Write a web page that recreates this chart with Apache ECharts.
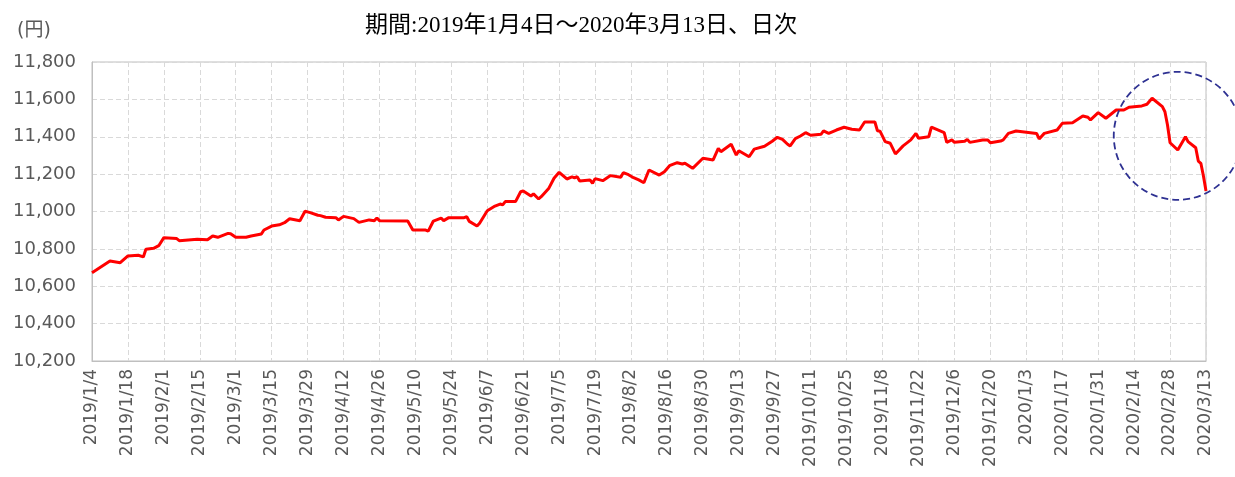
<!DOCTYPE html>
<html lang="ja">
<head>
<meta charset="UTF-8">
<script src="https://cdn.jsdelivr.net/npm/echarts@6/dist/echarts.min.js"></script>
<title>基準価額の推移</title>
<style>
    html, body { margin: 0; padding: 0; background: #fff; }
    #main { width: 1235px; height: 477px; }
</style>
</head>
<body>
<div id="main"></div>
<script type="text/javascript">
// 日次の基準価額（読み取り値）
var dates = [
    '2019/1/4','2019/1/11','2019/1/15','2019/1/18','2019/1/22','2019/1/24','2019/1/25','2019/1/28','2019/1/30',
    '2019/2/1','2019/2/6','2019/2/7','2019/2/14','2019/2/18','2019/2/20','2019/2/22','2019/2/26','2019/2/27',
    '2019/3/1','2019/3/5','2019/3/7','2019/3/11','2019/3/12','2019/3/15','2019/3/18','2019/3/20','2019/3/22',
    '2019/3/26','2019/3/28','2019/3/30','2019/4/2','2019/4/3','2019/4/5','2019/4/9','2019/4/10','2019/4/12',
    '2019/4/16','2019/4/18','2019/4/22','2019/4/24','2019/4/25','2019/4/26','2019/5/7','2019/5/9','2019/5/14',
    '2019/5/15','2019/5/17','2019/5/20','2019/5/21','2019/5/23','2019/5/29','2019/5/30','2019/5/31','2019/6/3',
    '2019/6/4','2019/6/7','2019/6/10','2019/6/12','2019/6/13','2019/6/14','2019/6/18','2019/6/20','2019/6/21',
    '2019/6/24','2019/6/25','2019/6/27','2019/6/28','2019/7/1','2019/7/3','2019/7/5','2019/7/8','2019/7/10',
    '2019/7/11','2019/7/12','2019/7/13','2019/7/17','2019/7/18','2019/7/19','2019/7/22','2019/7/25','2019/7/29',
    '2019/7/30','2019/8/1','2019/8/3','2019/8/5','2019/8/7','2019/8/9','2019/8/13','2019/8/15','2019/8/17',
    '2019/8/20','2019/8/22','2019/8/23','2019/8/26','2019/8/30','2019/9/3','2019/9/5','2019/9/6','2019/9/10',
    '2019/9/12','2019/9/13','2019/9/17','2019/9/19','2019/9/23','2019/9/26','2019/9/28','2019/9/30','2019/10/2',
    '2019/10/3','2019/10/5','2019/10/7','2019/10/9','2019/10/11','2019/10/15','2019/10/16','2019/10/18','2019/10/21',
    '2019/10/24','2019/10/27','2019/10/30','2019/11/1','2019/11/5','2019/11/6','2019/11/7','2019/11/9','2019/11/11',
    '2019/11/13','2019/11/16','2019/11/19','2019/11/21','2019/11/22','2019/11/26','2019/11/27','2019/12/2','2019/12/3',
    '2019/12/5','2019/12/6','2019/12/10','2019/12/11','2019/12/12','2019/12/17','2019/12/19','2019/12/20','2019/12/24',
    '2019/12/25','2019/12/27','2019/12/30','2020/1/7','2020/1/8','2020/1/10','2020/1/15','2020/1/17','2020/1/21',
    '2020/1/25','2020/1/27','2020/1/28','2020/1/31','2020/2/3','2020/2/7','2020/2/10','2020/2/12','2020/2/17',
    '2020/2/19','2020/2/21','2020/2/25','2020/2/26','2020/2/27','2020/2/28','2020/3/2','2020/3/5','2020/3/6',
    '2020/3/9','2020/3/10','2020/3/11','2020/3/12','2020/3/13'
];
var prices = [
    10672,10735,10726,10762,10766,10757,10798,10803,10817,
    10860,10855,10844,10851,10849,10869,10862,10883,10881,
    10862,10862,10869,10880,10901,10922,10929,10940,10961,
    10951,11001,10994,10980,10978,10969,10967,10955,10974,
    10962,10942,10955,10951,10965,10951,10949,10901,10901,
    10895,10949,10965,10951,10967,10967,10972,10947,10922,
    10937,11004,11029,11040,11035,11053,11053,11106,11110,
    11083,11094,11067,11079,11125,11178,11210,11174,11185,
    11180,11186,11163,11169,11151,11176,11165,11192,11183,
    11208,11197,11181,11169,11154,11222,11195,11213,11245,
    11261,11254,11258,11231,11285,11276,11338,11320,11360,
    11302,11325,11293,11334,11349,11376,11397,11386,11360,
    11351,11390,11404,11422,11408,11413,11431,11418,11436,
    11451,11440,11436,11479,11479,11432,11430,11374,11365,
    11308,11351,11383,11418,11392,11400,11451,11422,11370,
    11383,11370,11376,11386,11370,11383,11383,11368,11377,
    11383,11418,11431,11418,11388,11418,11436,11472,11475,
    11511,11504,11490,11529,11499,11543,11543,11558,11565,
    11574,11606,11561,11534,11463,11368,11329,11400,11374,
    11341,11270,11258,11190,11110
];
var startDate = '2019/1/4';
var endDate = '2020/3/13';
var yMin = 10200, yMax = 11800, yStep = 200;
var xStepDays = 14;
// 注目部分の丸囲み（中心の日付と値）
var markCenter = ['2020/3/2', 11405];

function toUTC(s) {
    var p = s.split('/');
    return Date.UTC(+p[0], +p[1] - 1, +p[2]);
}
function dayOffset(s) {
    return Math.round((toUTC(s) - toUTC(startDate)) / 86400000);
}
function dayLabel(v) {
    var d = new Date(toUTC(startDate) + v * 86400000);
    return d.getUTCFullYear() + '/' + (d.getUTCMonth() + 1) + '/' + d.getUTCDate();
}

var seriesData = dates.map(function (d, i) { return [dayOffset(d), prices[i]]; });

var chart = echarts.init(document.getElementById('main'));
var txt = '#595959';
var option = {
    animation: false,
    title: [{
        text: '期間:2019年1月4日～2020年3月13日、日次',
        left: 360,
        top: 9,
        textStyle: {
            fontFamily: '"Liberation Serif", "Noto Sans CJK JP", serif',
            fontSize: 23,
            fontWeight: 'normal',
            color: '#000'
        }
    }, {
        text: '(円)',
        left: 12,
        top: 17,
        textStyle: {
            fontFamily: '"DejaVu Sans", "Noto Sans CJK JP", sans-serif',
            fontSize: 19,
            fontWeight: 'normal',
            color: txt
        }
    }],
    grid: {
        left: 92, right: 29, top: 62, bottom: 116,
        show: true, borderColor: '#BFBFBF', borderWidth: 1
    },
    xAxis: {
        type: 'value',
        min: 0,
        max: dayOffset(endDate),
        interval: xStepDays,
        axisLine: { show: true, lineStyle: { color: '#BFBFBF' } },
        axisTick: { show: false },
        axisLabel: {
            rotate: 90,
            margin: 8,
            color: txt,
            fontFamily: '"DejaVu Sans", Verdana, sans-serif',
            fontSize: 17,
            formatter: dayLabel
        },
        splitLine: { show: true, lineStyle: { color: '#D9D9D9', type: [5, 3] } }
    },
    yAxis: {
        type: 'value',
        min: yMin, max: yMax, interval: yStep,
        axisLine: { show: true, lineStyle: { color: '#BFBFBF' } },
        axisTick: { show: false },
        axisLabel: {
            margin: 16,
            color: txt,
            fontFamily: '"DejaVu Sans", Verdana, sans-serif',
            fontSize: 18,
            formatter: function (v) { return v.toLocaleString('en-US'); }
        },
        splitLine: { show: true, lineStyle: { color: '#D9D9D9', type: [5, 3] } }
    },
    series: [{
        type: 'line',
        data: seriesData,
        showSymbol: false,
        lineStyle: { color: '#FF0000', width: 3 },
        itemStyle: { color: '#FF0000' }
    }]
};
chart.setOption(option);

var c = chart.convertToPixel({ gridIndex: 0 }, [dayOffset(markCenter[0]), markCenter[1]]);
chart.setOption({
    graphic: [{
        type: 'circle',
        shape: { cx: c[0], cy: c[1], r: 64 },
        style: { fill: 'none', stroke: '#2E3192', lineWidth: 1.8, lineDash: [7, 4] },
        z: 100
    }]
});
</script>
</body>
</html>
